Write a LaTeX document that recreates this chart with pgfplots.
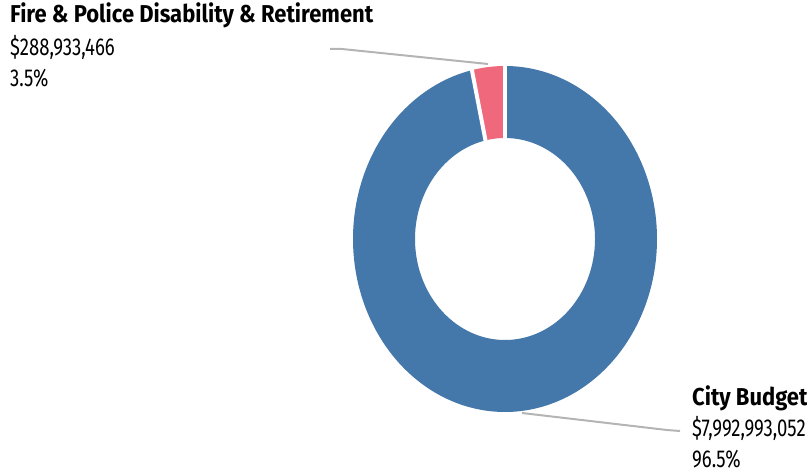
\documentclass[border=0pt]{standalone}
\usepackage{fontspec}
\setmainfont{Fira Sans}[FakeStretch=0.76, BoldFeatures={FakeStretch=0.90}]
\usepackage{pgfplots}
\pgfplotsset{compat=1.18}
\definecolor{cblue}{HTML}{4477AA}
\definecolor{cred}{HTML}{EF687C}
\definecolor{lgray}{HTML}{B4B4B4}
% values in millions of dollars
\def\vCity{7992.993052}
\def\vFire{288.933466}
\pgfmathsetmacro\angB{90+\vFire/(\vCity+\vFire)*360}
\begin{document}
\begin{tikzpicture}
\useasboundingbox (0,0) rectangle (807bp,473bp);
\begin{axis}[
  at={(0,0)}, anchor=south west,
  scale only axis, width=807bp, height=473bp,
  xmin=0, xmax=807, ymin=0, ymax=473, y dir=reverse,
  hide axis, clip=false,
]
% City Budget wedge
\addplot[draw=none, fill=cblue, domain=0:2, samples=721, variable=\t]
  ({505+((\t<=1)?152:90)*cos(\angB+(450-\angB)*min(\t,2-\t))},
   {239-((\t<=1)?173:101)*sin(\angB+(450-\angB)*min(\t,2-\t))});
% Fire & Police wedge
\addplot[draw=none, fill=cred, domain=0:2, samples=201, variable=\t]
  ({505+((\t<=1)?152:90)*cos(90+(\angB-90)*min(\t,2-\t))},
   {239-((\t<=1)?173:101)*sin(90+(\angB-90)*min(\t,2-\t))});
% white separators
\addplot[white, line width=4bp, domain=0:1, samples=2, variable=\t]
  ({505+(88+66*\t)*cos(90)}, {239-(99+76*\t)*sin(90)});
\addplot[white, line width=4bp, domain=0:1, samples=2, variable=\t]
  ({505+(88+66*\t)*cos(\angB)}, {239-(99+76*\t)*sin(\angB)});
% leader lines
\addplot[lgray, line width=2bp, line join=round] coordinates {(330,49) (342,49) (488,64)};
\addplot[lgray, line width=2bp, line join=round] coordinates {(522,413) (667,430) (680,431)};
% labels
\node[anchor=base west, inner sep=0pt, font=\fontsize{24.5}{28}\selectfont\bfseries] at (axis cs:10,23) {Fire \& Police Disability \& Retirement};
\node[anchor=base west, inner sep=0pt, font=\fontsize{24.5}{28}\selectfont] at (axis cs:10,55) {\$288,933,466};
\node[anchor=base west, inner sep=0pt, font=\fontsize{24.5}{28}\selectfont] at (axis cs:10,86) {3.5\%};
\node[anchor=base west, inner sep=0pt, font=\fontsize{24.5}{28}\selectfont\bfseries] at (axis cs:692,405) {City Budget};
\node[anchor=base west, inner sep=0pt, font=\fontsize{24.5}{28}\selectfont] at (axis cs:692,436) {\$7,992,993,052};
\node[anchor=base west, inner sep=0pt, font=\fontsize{24.5}{28}\selectfont] at (axis cs:692,467) {96.5\%};
\end{axis}
\end{tikzpicture}
\end{document}
